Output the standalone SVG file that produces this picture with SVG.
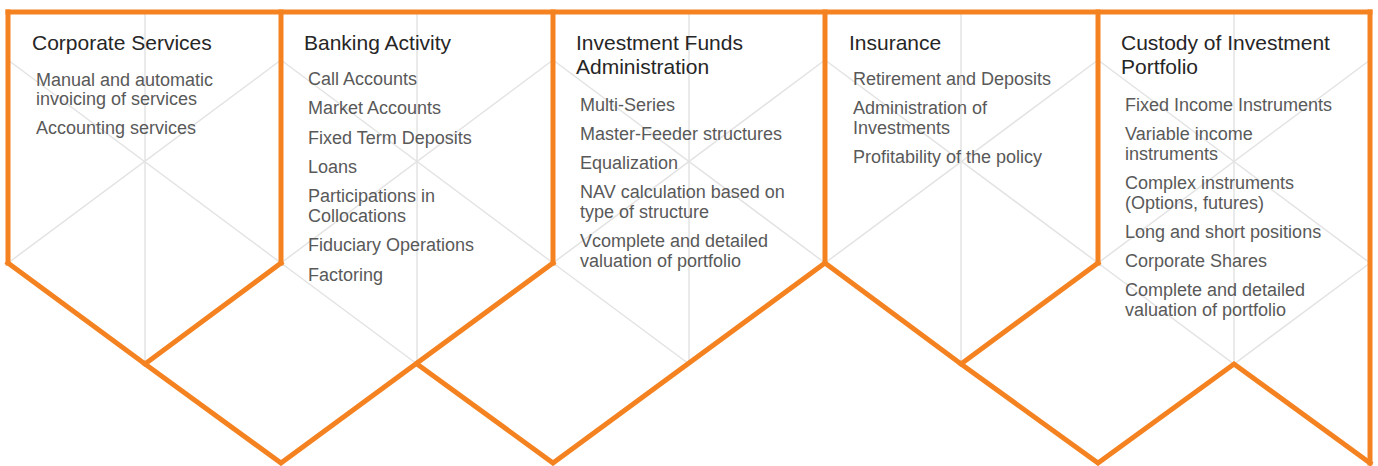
<svg xmlns="http://www.w3.org/2000/svg" width="1378" height="466" viewBox="0 0 1378 466">
<style>
.grid{fill:none;stroke:#e3e3e3;stroke-width:1.5}
.frame{fill:none;stroke:#f58220;stroke-width:5;stroke-linejoin:miter;stroke-linecap:square}
.title{font-family:"Liberation Sans",Arial,sans-serif;font-size:21px;fill:#262626}
.item{font-family:"Liberation Sans",Arial,sans-serif;font-size:18px;fill:#595959}
</style>
<rect width="1378" height="466" fill="#ffffff"/>
<g id="lattice" class="grid">
<path d="M145,12V364M417,12V364M689,12V364M961,12V364M1234,12V364"/>
<path d="M8,60L281,263L417,364M281,60L8,263"/>
<path d="M281,60L553,263L689,364M553,60L281,263"/>
<path d="M553,60L825,263M825,60L553,263"/>
<path d="M825,60L1098,263M1098,60L825,263"/>
<path d="M1098,60L1370,263M1370,60L1098,263M1098,263L1234,364L1370,263"/>
</g>
<g id="connectors" class="frame">
<path d="M8,12H1370"/>
<path d="M8,12V263M281,12V263M553,12V263M825,12V263M1098,12V263M1370,12V463"/>
<path d="M8,263L145,364L281,263"/>
<path d="M145,364L281,463L553,263"/>
<path d="M417,364L553,463L825,263"/>
<path d="M825,263L961,364L1098,263"/>
<path d="M961,364L1098,463L1234,364L1370,463"/>
</g>
<g id="corporate-services">
<text class="title" x="32" y="50">Corporate Services</text>
<text class="item" x="36" y="86">Manual and automatic</text>
<text class="item" x="36" y="105">invoicing of services</text>
<text class="item" x="36" y="134">Accounting services</text>
</g>
<g id="banking-activity">
<text class="title" x="304" y="50">Banking Activity</text>
<text class="item" x="308" y="85">Call Accounts</text>
<text class="item" x="308" y="114">Market Accounts</text>
<text class="item" x="308" y="144">Fixed Term Deposits</text>
<text class="item" x="308" y="173">Loans</text>
<text class="item" x="308" y="202">Participations in</text>
<text class="item" x="308" y="222">Collocations</text>
<text class="item" x="308" y="251">Fiduciary Operations</text>
<text class="item" x="308" y="281">Factoring</text>
</g>
<g id="investment-funds">
<text class="title" x="576" y="50">Investment Funds</text>
<text class="title" x="576" y="74">Administration</text>
<text class="item" x="580" y="111">Multi-Series</text>
<text class="item" x="580" y="140">Master-Feeder structures</text>
<text class="item" x="580" y="169">Equalization</text>
<text class="item" x="580" y="198">NAV calculation based on</text>
<text class="item" x="580" y="218">type of structure</text>
<text class="item" x="580" y="247">Vcomplete and detailed</text>
<text class="item" x="580" y="267">valuation of portfolio</text>
</g>
<g id="insurance">
<text class="title" x="849" y="50">Insurance</text>
<text class="item" x="853" y="85">Retirement and Deposits</text>
<text class="item" x="853" y="114">Administration of</text>
<text class="item" x="853" y="134">Investments</text>
<text class="item" x="853" y="163">Profitability of the policy</text>
</g>
<g id="custody">
<text class="title" x="1121" y="50">Custody of Investment</text>
<text class="title" x="1121" y="74">Portfolio</text>
<text class="item" x="1125" y="111">Fixed Income Instruments</text>
<text class="item" x="1125" y="140">Variable income</text>
<text class="item" x="1125" y="160">instruments</text>
<text class="item" x="1125" y="189">Complex instruments</text>
<text class="item" x="1125" y="209">(Options, futures)</text>
<text class="item" x="1125" y="238">Long and short positions</text>
<text class="item" x="1125" y="267">Corporate Shares</text>
<text class="item" x="1125" y="296">Complete and detailed</text>
<text class="item" x="1125" y="316">valuation of portfolio</text>
</g>
</svg>
